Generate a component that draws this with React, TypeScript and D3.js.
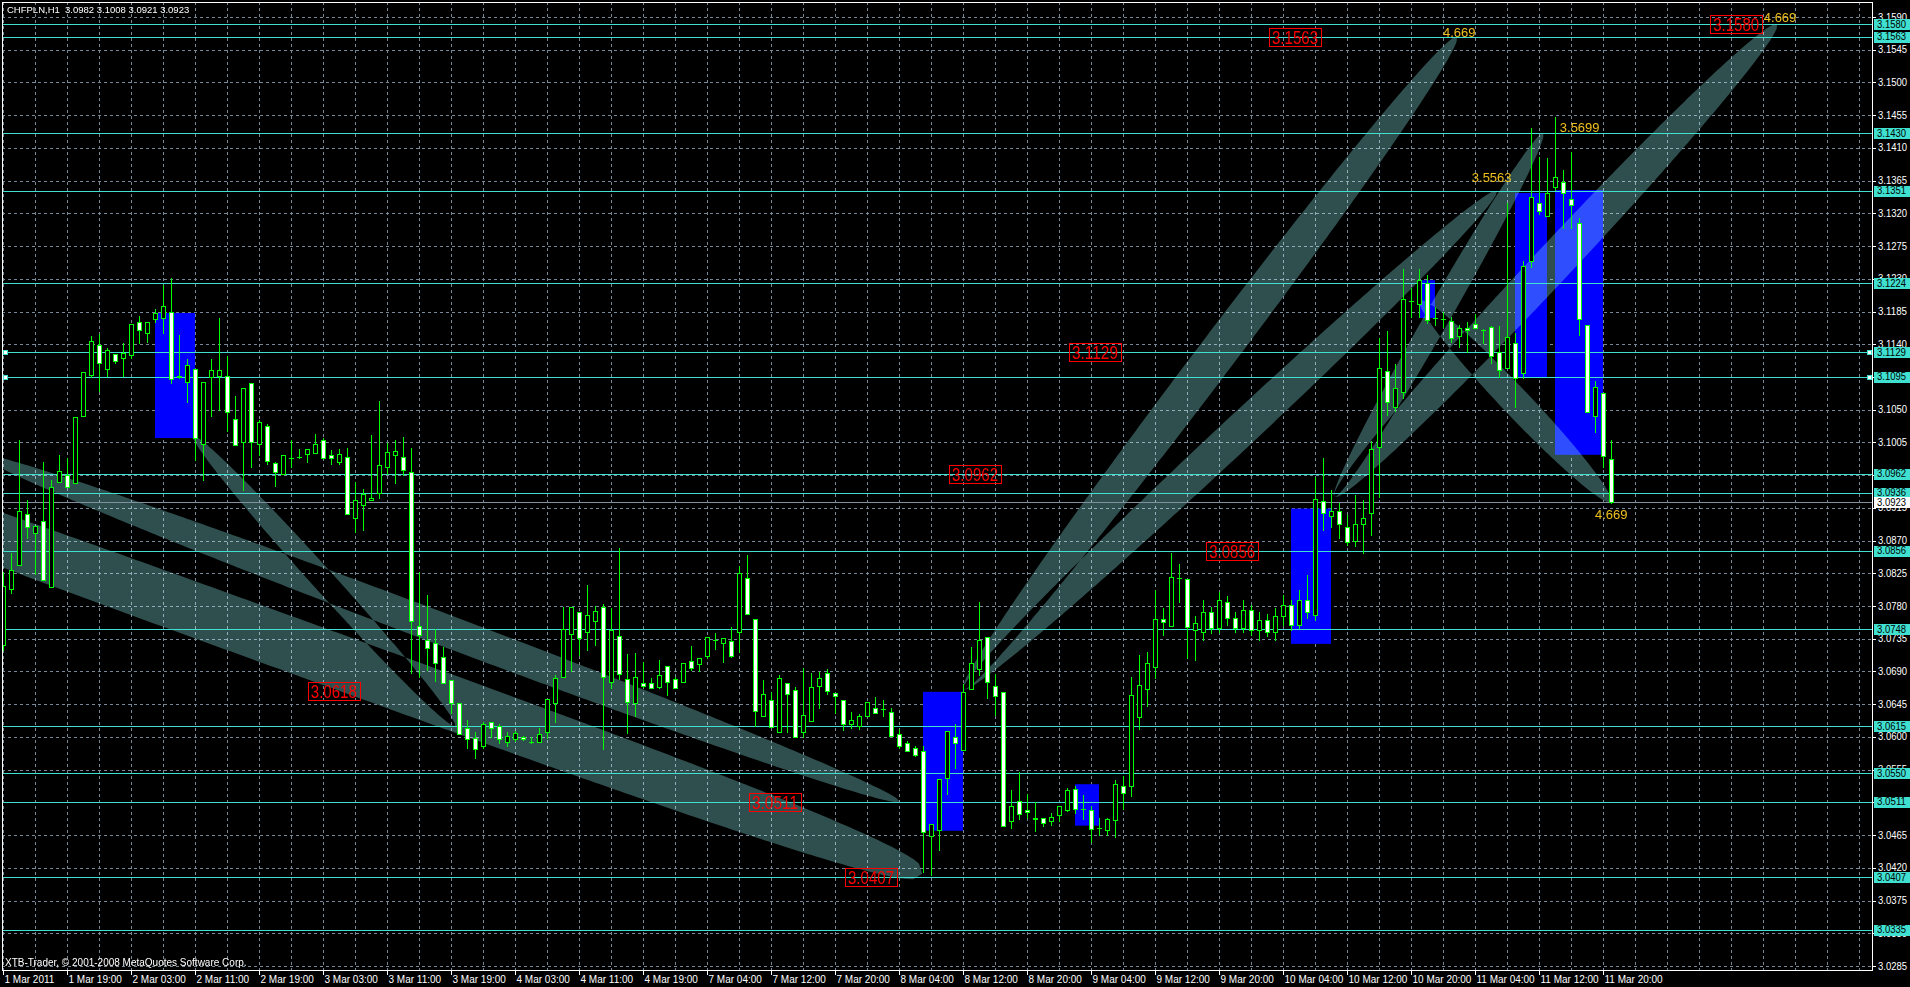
import { useEffect } from 'react';
import * as d3 from 'd3';

// CHFPLN H1, 1 Mar 2011 11:00 .. 11 Mar 2011 21:00
const opens = [
  3.0727, 3.0804, 3.0836, 3.0906, 3.0881, 3.0897, 3.0806, 3.0950, 3.0960, 3.0949,
  3.1041, 3.1098, 3.1139, 3.1106, 3.1127, 3.1121, 3.1125, 3.1170, 3.1156, 3.1175,
  3.1176, 3.1184, 3.1095, 3.1088, 3.1106, 3.1003, 3.1095, 3.1097, 3.1097, 3.1037,
  3.1006, 3.1087, 3.1003, 3.1028, 3.0977, 3.0962, 3.0983, 3.0985, 3.0989, 3.0990,
  3.1009, 3.0988, 3.0978, 3.0985, 3.0901, 3.0919, 3.0926, 3.0936, 3.0971, 3.0988,
  3.0985, 3.0964, 3.0752, 3.0733, 3.0729, 3.0710, 3.0678, 3.0646, 3.0612, 3.0599,
  3.0588, 3.0621, 3.0615, 3.0593, 3.0597, 3.0600, 3.0593, 3.0593, 3.0607, 3.0647,
  3.0683, 3.0742, 3.0772, 3.0744, 3.0760, 3.0779, 3.0676, 3.0739, 3.0680, 3.0646,
  3.0674, 3.0674, 3.0669, 3.0698, 3.0680, 3.0676, 3.0705, 3.0700, 3.0711, 3.0733,
  3.0729, 3.0732, 3.0744, 3.0819, 3.0762, 3.0629, 3.0651, 3.0607, 3.0674, 3.0665,
  3.0607, 3.0622, 3.0670, 3.0688, 3.0660, 3.0651, 3.0618, 3.0615, 3.0629, 3.0640,
  3.0638, 3.0634, 3.0604, 3.0592, 3.0585, 3.0581, 3.0464, 3.0472, 3.0543, 3.0600,
  3.0582, 3.0666, 3.0693, 3.0737, 3.0670, 3.0662, 3.0485, 3.0512, 3.0500, 3.0489,
  3.0488, 3.0485, 3.0492, 3.0500, 3.0528, 3.0501, 3.0500, 3.0475, 3.0472, 3.0486,
  3.0532, 3.0532, 3.0628, 3.0666, 3.0696, 3.0762, 3.0752, 3.0819, 3.0817, 3.0747,
  3.0744, 3.0772, 3.0750, 3.0786, 3.0763, 3.0750, 3.0775, 3.0747, 3.0761, 3.0744,
  3.0766, 3.0781, 3.0754, 3.0788, 3.0768, 3.0924, 3.0904, 3.0911, 3.0889, 3.0870,
  3.0893, 3.0908, 3.0999, 3.1103, 3.1054, 3.1074, 3.1200, 3.1195, 3.1224, 3.1176,
  3.1175, 3.1172, 3.1152, 3.1162, 3.1168, 3.1160, 3.1164, 3.1129, 3.1107, 3.1142,
  3.1101, 3.1255, 3.1334, 3.1317, 3.1356, 3.1363, 3.1340, 3.1307, 3.1166, 3.1041,
  3.1073, 3.0982,
];
const highs = [
  3.0827, 3.0853, 3.1009, 3.0926, 3.0890, 3.0978, 3.0954, 3.0988, 3.0984, 3.1040,
  3.1102, 3.1152, 3.1154, 3.1135, 3.1127, 3.1142, 3.1168, 3.1179, 3.1170, 3.1189,
  3.1222, 3.1231, 3.1153, 3.1120, 3.1106, 3.1088, 3.1120, 3.1176, 3.1124, 3.1069,
  3.1080, 3.1087, 3.1036, 3.1030, 3.0978, 3.0988, 3.1008, 3.0996, 3.0996, 3.1017,
  3.1011, 3.0995, 3.0996, 3.0997, 3.0951, 3.0941, 3.1015, 3.1062, 3.1004, 3.1009,
  3.1013, 3.0997, 3.0827, 3.0795, 3.0748, 3.0724, 3.0678, 3.0646, 3.0623, 3.0607,
  3.0621, 3.0621, 3.0618, 3.0607, 3.0608, 3.0601, 3.0600, 3.0612, 3.0652, 3.0685,
  3.0779, 3.0779, 3.0772, 3.0809, 3.0780, 3.0783, 3.0777, 3.0860, 3.0714, 3.0716,
  3.0703, 3.0681, 3.0706, 3.0698, 3.0683, 3.0702, 3.0725, 3.0709, 3.0737, 3.0743,
  3.0736, 3.0751, 3.0835, 3.0850, 3.0762, 3.0678, 3.0662, 3.0685, 3.0674, 3.0669,
  3.0695, 3.0688, 3.0689, 3.0694, 3.0660, 3.0651, 3.0634, 3.0632, 3.0648, 3.0655,
  3.0651, 3.0640, 3.0611, 3.0595, 3.0588, 3.0588, 3.0480, 3.0542, 3.0608, 3.0618,
  3.0673, 3.0724, 3.0786, 3.0737, 3.0687, 3.0662, 3.0527, 3.0552, 3.0522, 3.0510,
  3.0488, 3.0496, 3.0505, 3.0530, 3.0532, 3.0520, 3.0505, 3.0489, 3.0489, 3.0541,
  3.0546, 3.0682, 3.0713, 3.0717, 3.0802, 3.0777, 3.0853, 3.0838, 3.0817, 3.0766,
  3.0788, 3.0779, 3.0799, 3.0794, 3.0772, 3.0788, 3.0781, 3.0772, 3.0769, 3.0777,
  3.0795, 3.0788, 3.0802, 3.0823, 3.0958, 3.0983, 3.0940, 3.0922, 3.0905, 3.0933,
  3.0926, 3.1007, 3.1149, 3.1158, 3.1113, 3.1243, 3.1217, 3.1243, 3.1235, 3.1191,
  3.1184, 3.1178, 3.1166, 3.1170, 3.1182, 3.1161, 3.1165, 3.1165, 3.1334, 3.1156,
  3.1255, 3.1437, 3.1398, 3.1396, 3.1452, 3.1380, 3.1404, 3.1314, 3.1166, 3.1090,
  3.1073, 3.1008,
];
const lows = [
  3.0720, 3.0798, 3.0836, 3.0874, 3.0824, 3.0816, 3.0806, 3.0950, 3.0944, 3.0949,
  3.1041, 3.1095, 3.1076, 3.1097, 3.1114, 3.1097, 3.1121, 3.1142, 3.1143, 3.1170,
  3.1156, 3.1087, 3.1094, 3.1061, 3.0981, 3.0953, 3.1041, 3.1050, 3.1021, 3.1001,
  3.0939, 3.0971, 3.0988, 3.0975, 3.0945, 3.0962, 3.0971, 3.0984, 3.0978, 3.0990,
  3.0983, 3.0975, 3.0975, 3.0906, 3.0882, 3.0885, 3.0926, 3.0929, 3.0962, 3.0949,
  3.0960, 3.0688, 3.0682, 3.0692, 3.0677, 3.0674, 3.0633, 3.0604, 3.0585, 3.0571,
  3.0585, 3.0600, 3.0592, 3.0588, 3.0595, 3.0596, 3.0592, 3.0593, 3.0599, 3.0621,
  3.0683, 3.0690, 3.0713, 3.0720, 3.0727, 3.0583, 3.0667, 3.0680, 3.0606, 3.0629,
  3.0669, 3.0667, 3.0667, 3.0658, 3.0667, 3.0676, 3.0692, 3.0690, 3.0709, 3.0721,
  3.0703, 3.0710, 3.0717, 3.0769, 3.0615, 3.0629, 3.0614, 3.0607, 3.0607, 3.0600,
  3.0600, 3.0622, 3.0640, 3.0659, 3.0633, 3.0609, 3.0612, 3.0611, 3.0629, 3.0633,
  3.0629, 3.0601, 3.0585, 3.0581, 3.0574, 3.0414, 3.0410, 3.0445, 3.0521, 3.0557,
  3.0582, 3.0666, 3.0685, 3.0654, 3.0630, 3.0478, 3.0475, 3.0487, 3.0489, 3.0471,
  3.0478, 3.0479, 3.0485, 3.0498, 3.0496, 3.0487, 3.0456, 3.0465, 3.0465, 3.0462,
  3.0501, 3.0519, 3.0611, 3.0643, 3.0681, 3.0740, 3.0752, 3.0786, 3.0709, 3.0706,
  3.0733, 3.0743, 3.0744, 3.0754, 3.0744, 3.0744, 3.0740, 3.0733, 3.0739, 3.0733,
  3.0754, 3.0747, 3.0750, 3.0764, 3.0761, 3.0885, 3.0889, 3.0874, 3.0864, 3.0862,
  3.0853, 3.0878, 3.0930, 3.1043, 3.1048, 3.1066, 3.1177, 3.1177, 3.1169, 3.1166,
  3.1164, 3.1143, 3.1136, 3.1129, 3.1162, 3.1142, 3.1114, 3.1095, 3.1107, 3.1054,
  3.1094, 3.1246, 3.1319, 3.1317, 3.1352, 3.1300, 3.1300, 3.1153, 3.1047, 3.1019,
  3.0971, 3.0921,
];
const closes = [
  3.0808, 3.0830, 3.0911, 3.0888, 3.0890, 3.0816, 3.0944, 3.0966, 3.0944, 3.1040,
  3.1102, 3.1145, 3.1114, 3.1132, 3.1117, 3.1128, 3.1168, 3.1160, 3.1170, 3.1183,
  3.1193, 3.1092, 3.1097, 3.1111, 3.1011, 3.1088, 3.1105, 3.1105, 3.1047, 3.1001,
  3.1080, 3.1006, 3.1033, 3.0980, 3.0964, 3.0988, 3.0984, 3.0985, 3.0996, 3.1003,
  3.0984, 3.0983, 3.0989, 3.0906, 3.0926, 3.0934, 3.0929, 3.0974, 3.0992, 3.0993,
  3.0967, 3.0759, 3.0740, 3.0722, 3.0702, 3.0674, 3.0647, 3.0604, 3.0597, 3.0583,
  3.0618, 3.0612, 3.0597, 3.0601, 3.0606, 3.0597, 3.0593, 3.0604, 3.0652, 3.0681,
  3.0748, 3.0779, 3.0736, 3.0768, 3.0773, 3.0682, 3.0747, 3.0686, 3.0648, 3.0682,
  3.0670, 3.0667, 3.0685, 3.0676, 3.0667, 3.0702, 3.0695, 3.0709, 3.0737, 3.0733,
  3.0736, 3.0711, 3.0826, 3.0769, 3.0636, 3.0659, 3.0614, 3.0681, 3.0659, 3.0600,
  3.0630, 3.0669, 3.0681, 3.0663, 3.0656, 3.0618, 3.0623, 3.0629, 3.0648, 3.0633,
  3.0638, 3.0601, 3.0588, 3.0581, 3.0575, 3.0469, 3.0480, 3.0542, 3.0608, 3.0592,
  3.0662, 3.0702, 3.0733, 3.0676, 3.0656, 3.0478, 3.0505, 3.0494, 3.0497, 3.0487,
  3.0481, 3.0490, 3.0505, 3.0527, 3.0501, 3.0501, 3.0474, 3.0475, 3.0487, 3.0535,
  3.0523, 3.0658, 3.0672, 3.0702, 3.0762, 3.0758, 3.0820, 3.0819, 3.0751, 3.0757,
  3.0772, 3.0750, 3.0788, 3.0763, 3.0750, 3.0775, 3.0747, 3.0761, 3.0744, 3.0766,
  3.0781, 3.0754, 3.0788, 3.0772, 3.0927, 3.0908, 3.0911, 3.0893, 3.0868, 3.0893,
  3.0901, 3.0996, 3.1107, 3.1061, 3.1080, 3.1202, 3.1200, 3.1228, 3.1173, 3.1176,
  3.1175, 3.1148, 3.1162, 3.1160, 3.1162, 3.1160, 3.1124, 3.1105, 3.1150, 3.1094,
  3.1248, 3.1343, 3.1323, 3.1348, 3.1370, 3.1348, 3.1332, 3.1175, 3.1047, 3.1081,
  3.0986, 3.0923,
];

const timeLabels = [
  '1 Mar 2011', '1 Mar 19:00', '2 Mar 03:00', '2 Mar 11:00', '2 Mar 19:00', '3 Mar 03:00',
  '3 Mar 11:00', '3 Mar 19:00', '4 Mar 03:00', '4 Mar 11:00', '4 Mar 19:00', '7 Mar 04:00',
  '7 Mar 12:00', '7 Mar 20:00', '8 Mar 04:00', '8 Mar 12:00', '8 Mar 20:00', '9 Mar 04:00',
  '9 Mar 12:00', '9 Mar 20:00', '10 Mar 04:00', '10 Mar 12:00', '10 Mar 20:00', '11 Mar 04:00',
  '11 Mar 12:00', '11 Mar 20:00',
];
const priceTicks = [
  3.159, 3.1545, 3.15, 3.1455, 3.141, 3.1365, 3.132, 3.1275, 3.123, 3.1185,
  3.114, 3.1095, 3.105, 3.1005, 3.096, 3.0915, 3.087, 3.0825, 3.078, 3.0735,
  3.069, 3.0645, 3.06, 3.0555, 3.051, 3.0465, 3.042, 3.0375, 3.033, 3.0285,
];
const levels = [
  3.158, 3.1563, 3.143, 3.1351, 3.1224, 3.1129, 3.1095, 3.0962, 3.0936, 3.0856,
  3.0748, 3.0615, 3.055, 3.0511, 3.0407, 3.0335,
];
const selectedLevels = [3.1129, 3.1095];
const lastPrice = 3.0923;

// rectangles: bar from, bar to, price top, price bottom
const boxes = [
  [19, 24, 3.1183, 3.1011],
  [115, 120, 3.0662, 3.0471],
  [134, 137, 3.0535, 3.0478],
  [161, 166, 3.0914, 3.0728],
  [177, 179, 3.1228, 3.1176],
  [189, 193, 3.1348, 3.1095],
  [194, 200, 3.1352, 3.0988],
];

// ellipses: bar1, price1, bar2, price2
const ellipses = [
  [-2.9, 3.0988, 112.1, 3.0511],
  [-37.9, 3.1022, 114.9, 3.0412],
  [23.75, 3.1014, 56.5, 3.0615],
  [120, 3.0665, 181.75, 3.1563],
  [120, 3.0665, 186.75, 3.1351],
  [166.4, 3.093, 192.5, 3.143],
  [166.4, 3.093, 221.75, 3.158],
  [177.1, 3.12, 201, 3.0923],
];
const ellipseHalf = [16, 27, 11, 19, 17, 12, 19, 14];
const ellipsePow = [2, 3, 2, 2, 2, 2, 2, 2];

const priceLabels: [number, number, string][] = [
  [158.25, 3.1563, '3.1563'],
  [213.4, 3.158, '3.1580'],
  [133.25, 3.1129, '3.1129'],
  [118.25, 3.0962, '3.0962'],
  [150.4, 3.0856, '3.0856'],
  [38.1, 3.0663, '3.0618'],
  [93.25, 3.0511, '3.0511'],
  [105.25, 3.0407, '3.0407'],
];
const ratioLabels: [number, number, string][] = [
  [180, 3.1562, '4.669'],
  [220.1, 3.1583, '4.669'],
  [194.6, 3.1432, '3.5699'],
  [183.6, 3.1363, '3.5563'],
  [199, 3.09, '4.669'],
];

const FONT = '"Liberation Sans", Arial, sans-serif';
const GRID = '#778899';
const LEVEL = '#40E0D0';
const GREEN = '#00FF00';

export default function App() {
  useEffect(() => {
    document.body.style.margin = '0';
    document.body.style.background = '#000';
  }, []);

  const W = 1910, H = 987;
  const plot = { left: 2, top: 2, right: 1872, bottom: 970 };

  const x = d3.scaleLinear().domain([0, 201]).range([3, 1611]);
  const y = d3.scaleLinear().domain([3.0285, 3.159]).range([966, 17]);
  const cr = (v: number) => Math.round(v) + 0.5;

  const gridBars = d3.range(0, 234, 4);

  const ellipseD = ellipses.map((e, k) => {
    const [b1, p1, b2, p2] = e;
    const x1 = x(b1), y1 = y(p1), x2 = x(b2), y2 = y(p2);
    const dx = x2 - x1, dy = y2 - y1, len = Math.hypot(dx, dy);
    const nx = -dy / len, ny = dx / len;
    const w = ellipseHalf[k], pw = ellipsePow[k];
    const top: [number, number][] = [];
    const bot: [number, number][] = [];
    const n = 200;
    for (let i = 0; i <= n; i++) {
      const t = i / n;
      const s = Math.abs(2 * t - 1);
      const h = w * Math.pow(Math.max(0, 1 - Math.pow(s, pw)), 1 / pw);
      const cx = x1 + dx * t, cy = y1 + dy * t;
      top.push([cx + nx * h, cy + ny * h]);
      bot.push([cx - nx * h, cy - ny * h]);
    }
    return d3.line()([...top, ...bot.reverse()]) + 'Z';
  }).join(' ');

  return (
    <svg width={W} height={H} style={{ position: 'fixed', left: 0, top: 0, display: 'block' }} fontFamily={FONT}>
      <defs>
        <clipPath id="plot">
          <rect x={plot.left} y={plot.top} width={plot.right - plot.left} height={plot.bottom - plot.top} />
        </clipPath>
      </defs>
      <rect width={W} height={H} fill="#000" />

      <g clipPath="url(#plot)">
        <g stroke={GRID} strokeDasharray="3,3" shapeRendering="crispEdges">
          {gridBars.map((b) => (
            <line key={'v' + b} x1={cr(x(b))} x2={cr(x(b))} y1={plot.top} y2={plot.bottom} />
          ))}
          {priceTicks.map((p) => (
            <line key={'h' + p} x1={plot.left} x2={plot.right} y1={cr(y(p))} y2={cr(y(p))} />
          ))}
        </g>

        {boxes.map(([b1, b2, pt, pb], i) => (
          <rect key={'r' + i} x={x(b1)} y={y(pt)} width={x(b2) - x(b1)} height={y(pb) - y(pt)} fill="#0000FF" />
        ))}

        <path d={ellipseD} fill="#2F4F4F" fillRule="evenodd" style={{ mixBlendMode: 'screen' }} />

        <g shapeRendering="crispEdges">
          {levels.map((p) => (
            <line key={'l' + p} x1={plot.left} x2={plot.right} y1={cr(y(p))} y2={cr(y(p))} stroke={LEVEL} />
          ))}
          <line x1={plot.left} x2={plot.right} y1={cr(y(lastPrice))} y2={cr(y(lastPrice))} stroke="#8090A0" />
        </g>

        <g shapeRendering="crispEdges">
          {opens.map((o, i) => {
            const c = closes[i];
            const xc = cr(x(i));
            const yo = Math.round(y(o)), yc = Math.round(y(c));
            const top = Math.min(yo, yc), bottom = Math.max(yo, yc);
            return (
              <g key={'c' + i}>
                <line x1={xc} x2={xc} y1={Math.round(y(highs[i]))} y2={Math.round(y(lows[i])) + 1} stroke={GREEN} />
                {bottom - top < 1 ? (
                  <line x1={xc - 2.5} x2={xc + 2.5} y1={top + 0.5} y2={top + 0.5} stroke={GREEN} />
                ) : (
                  <rect x={xc - 2} y={top + 0.5} width={4} height={bottom - top} fill={c > o ? '#000' : '#fff'} stroke={GREEN} />
                )}
              </g>
            );
          })}
        </g>

        {selectedLevels.map((p) => (
          <g key={'s' + p}>
            <rect x={3.5} y={cr(y(p)) - 2} width={4} height={4} fill="#fff" stroke={LEVEL} />
            <rect x={1867.5} y={cr(y(p)) - 2} width={4} height={4} fill="#fff" stroke={LEVEL} />
          </g>
        ))}

        {priceLabels.map(([b, p, t], i) => (
          <g key={'pl' + i}>
            <rect x={cr(x(b))} y={cr(y(p)) - 9} width={52} height={18} fill="none" stroke="#FF0000" />
            <text x={x(b) + 3} y={y(p) + 7} fill="#FF0000" fontSize={19} textLength={46} lengthAdjust="spacingAndGlyphs">{t}</text>
          </g>
        ))}

        {ratioLabels.map(([b, p, t], i) => (
          <text key={'rl' + i} x={x(b)} y={y(p)} fill="#F0C020" fontSize={13}>{t}</text>
        ))}

        <text x={7} y={13} fill="#fff" fontSize={9.5} style={{ whiteSpace: 'pre' }}>{'CHFPLN,H1  3.0982 3.1008 3.0921 3.0923'}</text>
        <text x={5} y={966} fill="#fff" fontSize={10}>XTB-Trader, © 2001-2008 MetaQuotes Software Corp.</text>
      </g>

      <g stroke="#fff" shapeRendering="crispEdges" fill="none">
        <rect x={plot.left + 0.5} y={plot.top + 0.5} width={plot.right - plot.left} height={plot.bottom - plot.top} />
      </g>

      <g fill="#fff" fontSize={10}>
        {priceTicks.map((p) => (
          <g key={'pt' + p}>
            <line x1={plot.right} x2={plot.right + 4} y1={cr(y(p))} y2={cr(y(p))} stroke="#fff" shapeRendering="crispEdges" />
            <text x={1878} y={y(p) + 3.5} textLength={29} lengthAdjust="spacingAndGlyphs">{p.toFixed(4)}</text>
          </g>
        ))}
        {timeLabels.map((t, k) => {
          const xx = cr(x(k * 8));
          return (
            <g key={'tl' + k}>
              <line x1={xx} x2={xx} y1={plot.bottom} y2={plot.bottom + 5} stroke="#fff" shapeRendering="crispEdges" />
              <text x={xx + 1} y={983}>{t}</text>
            </g>
          );
        })}
      </g>

      <g fontSize={10}>
        {levels.map((p) => (
          <g key={'lb' + p}>
            <rect x={1874} y={Math.round(y(p)) - 5} width={36} height={11} fill={LEVEL} />
            <text x={1877} y={y(p) + 3.5} fill="#000" textLength={29} lengthAdjust="spacingAndGlyphs">{p.toFixed(4)}</text>
          </g>
        ))}
        <rect x={1874} y={Math.round(y(lastPrice)) - 5} width={36} height={11} fill="#fff" />
        <text x={1877} y={y(lastPrice) + 3.5} fill="#000" textLength={29} lengthAdjust="spacingAndGlyphs">{lastPrice.toFixed(4)}</text>
      </g>
    </svg>
  );
}
